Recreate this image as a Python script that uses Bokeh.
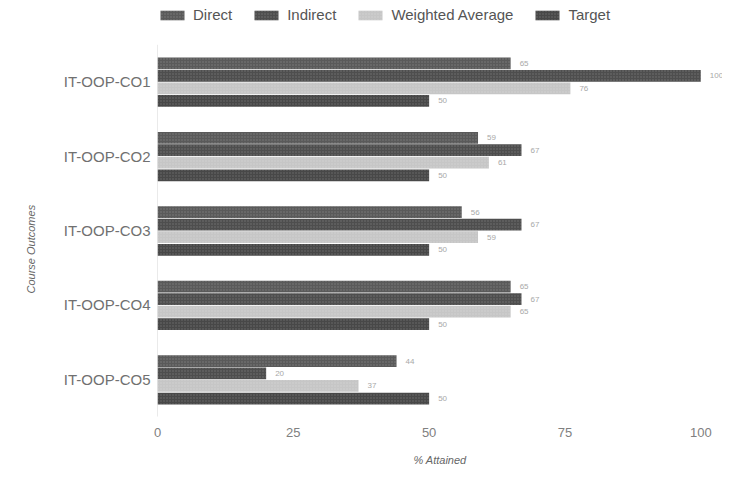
from bokeh.plotting import figure
from bokeh.models import ColumnDataSource, Range1d, Legend, LegendItem, FixedTicker, Title
from bokeh.core.properties import value
from bokeh.embed import file_html
from bokeh.resources import INLINE

categories = ["IT-OOP-CO1", "IT-OOP-CO2", "IT-OOP-CO3", "IT-OOP-CO4", "IT-OOP-CO5"]
direct = [65, 59, 56, 65, 44]
indirect = [100, 67, 67, 67, 20]
weighted = [76, 61, 59, 65, 37]
target = [50, 50, 50, 50, 50]
x_ticks = [0, 25, 50, 75, 100]

n = len(categories)
ypos = [n - 1 - i for i in range(n)]  # first category on top

series = [
    ("Direct", direct, "#5a5a5a", 0.245),
    ("Indirect", indirect, "#4e4e4e", 0.078),
    ("Weighted Average", weighted, "#c6c6c6", -0.09),
    ("Target", target, "#484848", -0.26),
]

p = figure(width=722, height=491, output_backend="svg", toolbar_location=None,
           y_range=Range1d(-0.5, n - 0.5 + 0.59),
           x_range=Range1d(0, 104),
           min_border_left=157, min_border_right=0, min_border_top=0, min_border_bottom=75)

font = "Liberation Sans"
items = []
for name, vals, color, off in series:
    src = ColumnDataSource(dict(y=[v + off for v in ypos], x=vals, t=[str(v) for v in vals]))
    r = p.hbar(y="y", right="x", left=0, height=0.158, source=src,
               fill_color=color, line_color=None,
               hatch_pattern="dot", hatch_color="white", hatch_alpha=0.2, hatch_scale=3)
    p.text(x="x", y="y", text="t", source=src,
           x_offset=9, text_align="left", text_baseline="middle",
           text_font=value(font), text_font_size="8px", text_color="#a8a8a8")
    items.append(LegendItem(label=name, renderers=[r]))

# dotted left axis line spanning the category band
p.segment(x0=[0], y0=[-0.5], x1=[0], y1=[n - 0.5], line_color="#aaaaaa",
          line_dash="1 1", line_width=1)

legend = Legend(items=items, orientation="horizontal", location=(0, 393),
                glyph_width=30, glyph_height=12, label_height=12, label_standoff=6, spacing=19,
                padding=2, margin=0, border_line_color=None, background_fill_alpha=0,
                label_text_font=font, label_text_font_size="15px", label_text_color="#555555")
p.add_layout(legend, "center")

p.xgrid.visible = False
p.ygrid.visible = False
p.outline_line_color = None

p.xaxis.ticker = FixedTicker(ticks=x_ticks)
p.xaxis.axis_line_color = None
p.xaxis.major_tick_line_color = None
p.xaxis.minor_tick_line_color = None
p.xaxis.major_tick_out = 0
p.xaxis.minor_tick_out = 0
p.xaxis.major_label_standoff = 11
p.xaxis.major_label_text_font = font
p.xaxis.major_label_text_font_size = "13px"
p.xaxis.major_label_text_color = "#808080"
p.xaxis.axis_label = "% Attained"
p.xaxis.axis_label_standoff = 14
p.xaxis.axis_label_text_font = font
p.xaxis.axis_label_text_font_size = "11px"
p.xaxis.axis_label_text_font_style = "italic"
p.xaxis.axis_label_text_color = "#666666"

p.yaxis.ticker = FixedTicker(ticks=ypos)
p.yaxis.major_label_overrides = {y: c for y, c in zip(ypos, categories)}
p.yaxis.axis_line_color = None
p.yaxis.major_tick_line_color = None
p.yaxis.minor_tick_line_color = None
p.yaxis.major_tick_out = 0
p.yaxis.minor_tick_out = 0
p.yaxis.major_label_standoff = 7
p.yaxis.major_label_text_font = font
p.yaxis.major_label_text_font_size = "15px"
p.yaxis.major_label_text_color = "#707070"

ytitle = Title(text="Course Outcomes", align="left", offset=123, vertical_align="top",
               standoff=44, text_font=font, text_font_size="11px",
               text_font_style="italic", text_color="#666666")
p.add_layout(ytitle, "left")

open("out.html", "w").write(file_html(p, INLINE))
